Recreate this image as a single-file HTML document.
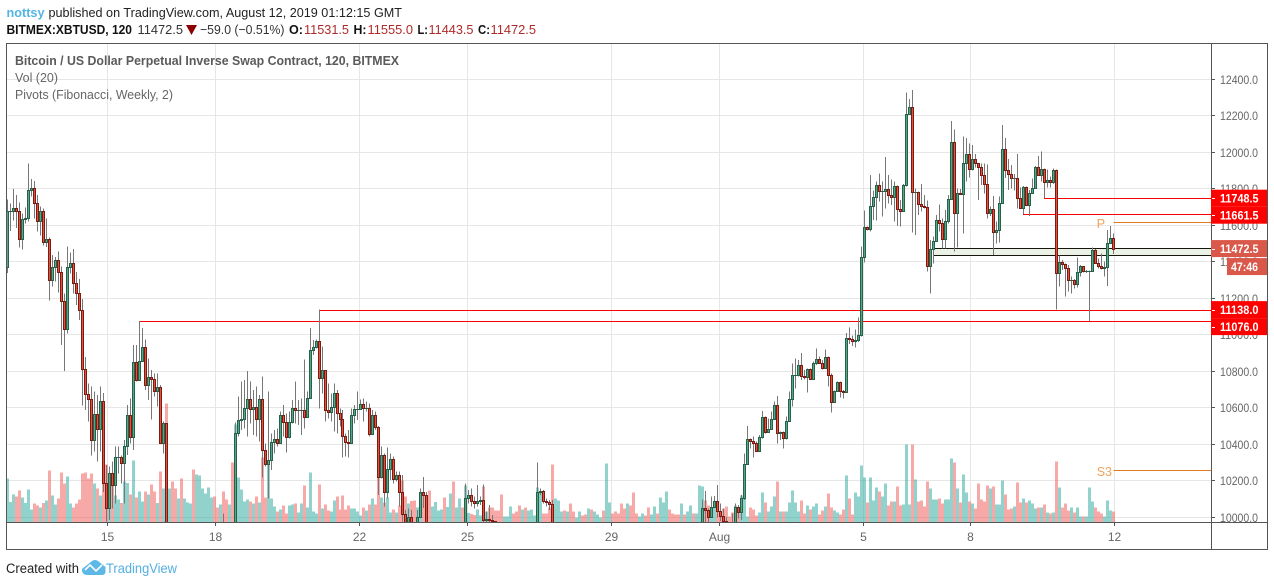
<!DOCTYPE html>
<html lang="en">
<head>
<meta charset="utf-8">
<title>BITMEX:XBTUSD chart</title>
<style>
html,body{margin:0;padding:0;background:#fff;width:1274px;height:586px;overflow:hidden}
svg{display:block;font-family:"Liberation Sans",Arial,sans-serif}
</style>
</head>
<body>
<svg id="chart" xmlns="http://www.w3.org/2000/svg" width="1274" height="586" viewBox="0 0 1274 586">
  <rect x="0" y="0" width="1274" height="586" fill="#fff"/>
  <g font-size="13">
    <text x="6.5" y="17" fill="#53b4e6" font-weight="bold" textLength="38" lengthAdjust="spacingAndGlyphs">nottsy</text>
    <text x="48.5" y="17" fill="#222" textLength="353.5" lengthAdjust="spacingAndGlyphs">published on TradingView.com, August 12, 2019 01:12:15 GMT</text>
    <text x="6.5" y="34" fill="#111" font-weight="bold" textLength="125.5" lengthAdjust="spacingAndGlyphs">BITMEX:XBTUSD, 120</text>
    <text x="137.5" y="34" fill="#333" textLength="45.5" lengthAdjust="spacingAndGlyphs">11472.5</text>
    <polygon points="186,25 197,25 191.5,35" fill="#8b0000"/>
    <text x="200" y="34" fill="#333" textLength="84.5" lengthAdjust="spacingAndGlyphs">−59.0 (−0.51%)</text>
    <text x="289" y="34" fill="#111" font-weight="bold" textLength="14" lengthAdjust="spacingAndGlyphs">O:</text>
    <text x="304" y="34" fill="#b02a2a" textLength="45" lengthAdjust="spacingAndGlyphs">11531.5</text>
    <text x="353.5" y="34" fill="#111" font-weight="bold" textLength="13" lengthAdjust="spacingAndGlyphs">H:</text>
    <text x="367.5" y="34" fill="#b02a2a" textLength="45.5" lengthAdjust="spacingAndGlyphs">11555.0</text>
    <text x="417.5" y="34" fill="#111" font-weight="bold" textLength="10.5" lengthAdjust="spacingAndGlyphs">L:</text>
    <text x="428.5" y="34" fill="#b02a2a" textLength="45" lengthAdjust="spacingAndGlyphs">11443.5</text>
    <text x="478" y="34" fill="#111" font-weight="bold" textLength="12" lengthAdjust="spacingAndGlyphs">C:</text>
    <text x="490.5" y="34" fill="#b02a2a" textLength="45.5" lengthAdjust="spacingAndGlyphs">11472.5</text>
  </g>
  <defs>
    <clipPath id="plot-clip"><rect x="7" y="44" width="1204" height="478"/></clipPath>
  </defs>
  <g id="grid" shape-rendering="crispEdges"></g>
  <g id="plot" clip-path="url(#plot-clip)" shape-rendering="crispEdges"></g>
  <g id="legend" font-size="12.5" fill="#666">
    <text x="15" y="65" font-weight="bold" fill="#5a5a5a" textLength="384" lengthAdjust="spacingAndGlyphs">Bitcoin / US Dollar Perpetual Inverse Swap Contract, 120, BITMEX</text>
    <text x="15" y="82" textLength="43" lengthAdjust="spacingAndGlyphs">Vol (20)</text>
    <text x="15" y="99" textLength="158" lengthAdjust="spacingAndGlyphs">Pivots (Fibonacci, Weekly, 2)</text>
  </g>
  <g id="frame" shape-rendering="crispEdges" stroke="#555" fill="none">
    <rect x="6.5" y="43.5" width="1261" height="506"/>
    <line x1="1211.5" y1="43.5" x2="1211.5" y2="549.5"/>
    <line x1="6.5" y1="522.5" x2="1267.5" y2="522.5"/>
  </g>
  <g id="xaxis"></g>
  <g id="yaxis"></g>
  <g id="tags"></g>
  <g>
    <text x="6" y="573" font-size="13.5" fill="#222" textLength="73" lengthAdjust="spacingAndGlyphs">Created with</text>
    <path d="M82 569 L92 561 Q95 559 98 561 L105.5 567 L105.5 572 Q105 575 102 575 L87 575 Q83 575 82 571 Z" fill="#5cb8e6"/>
    <path d="M85 570 L90 565 L96 571 L102 565" fill="none" stroke="#fff" stroke-width="1.6"/>
    <text x="106" y="573" font-size="14" fill="#53aee2" textLength="71" lengthAdjust="spacingAndGlyphs">TradingView</text>
  </g>
</svg>
<script>
const closes=[
11676,11676,11693,11676,11523,11633,11638,11792,11803,11720,
11622,11677,11507,11523,11298,11370,11408,11342,11183,11030,
11370,11392,11282,11231,11134,10811,10674,10646,10422,10564,
10482,10635,10186,10049,10241,10175,10328,10328,10296,10389,
10559,10438,10849,10750,10855,10931,10723,10771,10756,10690,
10712,10405,10515,9700,9760,9700,9640,9680,9620,9660,
9700,9740,9680,9720,9760,9800,9840,9870,9900,9850,
9800,9850,9800,9750,9790,9740,10460,10533,10537,10597,
10646,10592,10603,10540,10646,10367,10290,10312,10411,10427,
10405,10559,10520,10438,10524,10597,10586,10590,10590,10548,
10652,10915,10931,10964,10761,10805,10586,10575,10603,10679,
10570,10537,10443,10411,10405,10559,10592,10592,10619,10597,
10601,10455,10559,10493,10223,10340,10137,10263,10318,10208,
10230,10137,10018,9976,10003,9972,9960,10003,10137,10122,
9850,9800,9830,9860,9880,9900,9860,9890,9920,9870,
9900,9930,9890,10104,10120,10087,10076,10087,10093,9985,
9989,9985,9980,9930,9880,9830,9860,9880,9900,9870,
9840,9800,9830,9790,9820,9850,9880,10137,10142,10087,
10082,10071,9900,9920,9940,9955,9920,9945,9920,9890,
9915,9935,9905,9875,9900,9870,9895,9915,9935,9905,
9950,9965,9935,9905,9875,9845,9815,9840,9810,9780,
9750,9775,9800,9770,9740,9765,9790,9760,9800,9830,
9870,9840,9810,9780,9750,9790,9760,9800,9840,9810,
9850,9900,10049,10038,10000,10054,10087,10033,10005,9978,
9972,9970,9965,10054,10027,10104,10290,10427,10416,10405,
10361,10438,10548,10466,10482,10537,10614,10460,10466,10433,
10526,10646,10778,10778,10833,10772,10767,10811,10756,10844,
10866,10844,10816,10877,10778,10630,10690,10740,10690,10685,
10985,10975,10965,10970,11000,11425,11589,11578,11704,11753,
11819,11786,11786,11797,11764,11753,11814,11688,11677,11819,
12208,12247,11781,11781,11715,11704,11699,11375,11468,11512,
11627,11611,11523,11622,11742,12055,11666,11775,11770,11940,
11989,11907,11962,11940,11918,11874,11825,11666,11688,11562,
11573,11720,12016,11901,11879,11858,11858,11748,11693,11808,
11710,11775,11803,11918,11874,11907,11836,11847,11836,11901,
11337,11401,11386,11364,11300,11300,11277,11343,11375,11348,
11348,11348,11463,11392,11375,11364,11370,11501,11531.5,11472.5];
const highs=[
11742,11720,11799,11766,11726,11666,11698,11940,11854,11843,
11766,11702,11693,11638,11534,11437,11425,11457,11373,11227,
11485,11450,11470,11344,11306,11196,10877,10734,10716,10688,
10670,10716,10680,10286,10277,10305,10387,10387,10340,10424,
10615,10652,10944,10944,11076,11037,10975,10871,10807,10789,
10789,10725,10525,10515,9800,9780,9720,9720,9700,9700,
9740,9780,9760,9760,9800,9840,9880,9910,9940,9920,
9860,9890,10022,9810,9830,9800,10520,10661,10743,10752,
10802,10743,10698,10716,10670,10771,10405,10688,10460,10478,
10487,10579,10615,10570,10579,10643,10743,10643,10652,10866,
10688,11037,10971,10975,11138,10935,10807,10734,10679,10734,
10698,10597,10588,10460,10478,10597,10615,10688,10646,10652,
10634,10624,10588,10579,10500,10387,10350,10383,10350,10332,
10250,10250,10232,10040,10049,10040,9975,10040,10159,10222,
10140,9850,9860,9880,9900,9920,9920,9910,9940,9940,
9930,9950,9940,10186,10150,10159,10113,10177,10113,10180,
10031,10067,10012,9960,9940,9880,9880,9900,9930,9920,
9880,9850,9850,9830,9840,9870,9900,10301,10159,10150,
10104,10095,10095,9925,9945,9965,9960,9955,9950,9925,
9925,9945,9940,9910,9910,9905,9905,9925,9945,9940,
9960,9975,9970,9940,9910,9880,9850,9850,9845,9815,
9785,9785,9810,9805,9775,9775,9800,9795,9810,9840,
9880,9875,9845,9815,9785,9800,9795,9810,9850,9845,
9860,9910,10098,10144,10049,10113,10117,10177,10076,10049,
10003,9975,10022,10076,10067,10122,10350,10500,10433,10442,
10414,10451,10582,10551,10542,10579,10634,10665,10469,10469,
10551,10688,10844,10871,10862,10899,10807,10816,10816,10853,
10926,10880,10862,10920,10880,10789,10694,10743,10743,10698,
11010,11041,10995,11030,11096,11483,11680,11593,11876,11790,
11839,11885,11839,11973,11876,11852,11839,11819,11739,11826,
12329,12292,12342,11803,11784,11826,11766,11735,11520,11538,
11657,11715,11638,11684,11766,12172,12126,11803,11799,12086,
12077,12049,12040,11991,11940,11940,11940,11934,11702,11761,
11620,11757,12150,12077,11962,11931,11881,11991,11808,11815,
11812,11794,11857,11925,11980,12004,11912,11907,11867,11912,
11907,11434,11410,11392,11383,11319,11306,11423,11383,11377,
11355,11352,11479,11470,11419,11446,11401,11574,11596,11555];
const lows=[
11340,11570,11625,11585,11477,11467,11610,11620,11757,11638,
11565,11545,11488,11480,11187,11264,11291,11231,10944,10803,
11008,11336,11227,11163,11081,10612,10588,10524,10338,10360,
10305,10360,10140,9976,9985,10049,10076,10240,10186,10076,
10341,10405,10369,10743,10750,10855,10698,10642,10537,10661,
10606,10405,10350,9650,9680,9660,9600,9620,9590,9600,
9640,9680,9650,9660,9700,9740,9780,9820,9850,9820,
9770,9780,9760,9720,9730,9700,9700,10442,10478,10487,
10442,10515,10451,10442,10414,10219,10277,10104,10259,10350,
10387,10405,10442,10354,10433,10515,10515,10506,10451,10487,
10551,10652,10889,10926,10597,10679,10524,10542,10524,10469,
10460,10497,10329,10332,10329,10405,10515,10533,10588,10524,
10579,10442,10451,10478,10122,10213,10058,10104,10204,10186,
10195,10058,9976,9900,9900,9900,9900,9940,10000,10050,
9800,9750,9780,9810,9830,9850,9810,9840,9870,9820,
9850,9880,9840,9850,10076,10058,10049,10058,10067,9950,
9950,9950,9920,9880,9830,9780,9810,9830,9850,9820,
9790,9750,9780,9740,9770,9800,9830,9850,10122,10076,
10060,10040,9850,9890,9910,9930,9905,9905,9905,9880,
9885,9905,9895,9865,9870,9860,9860,9885,9905,9895,
9895,9940,9925,9895,9865,9835,9805,9805,9800,9770,
9740,9740,9765,9760,9730,9730,9755,9750,9750,9790,
9820,9830,9800,9770,9740,9740,9750,9750,9790,9800,
9800,9840,9850,9970,9970,10003,10050,10000,9980,9950,
9940,9940,9940,9950,9994,9985,10095,10287,10378,10329,
10360,10360,10433,10460,10469,10478,10533,10405,10424,10378,
10427,10524,10606,10707,10771,10752,10756,10683,10752,10752,
10835,10840,10811,10816,10716,10573,10630,10688,10657,10652,
10680,10950,10940,10930,10960,10990,11395,11571,11565,11629,
11625,11730,11648,11693,11720,11711,11620,11596,11593,11675,
11812,12205,11560,11547,11657,11675,11693,11346,11227,11392,
11510,11565,11474,11474,11611,11739,11456,11478,11766,11556,
11839,11863,11900,11918,11739,11821,11775,11638,11651,11437,
11501,11505,11720,11858,11794,11803,11790,11693,11688,11661.5,
11706,11651,11772,11803,11870,11839,11748.5,11808,11808,11826,
11138,11264,11355,11209,11236,11227,11255,11260,11319,11342,
11340,11076,11344,11388,11364,11359,11319,11267,11498,11443.5];
const volumes=[
130,60,82,77,94,74,57,97,37,56,
50,43,57,64,154,79,52,70,148,115,
136,55,43,55,67,146,148,130,145,115,
100,79,115,172,133,112,79,67,57,121,
117,82,184,74,92,61,91,82,112,91,
57,151,100,355,100,121,100,70,130,70,
58,55,157,142,139,100,85,103,73,76,
43,52,91,67,52,178,292,133,97,61,
67,61,55,77,58,193,73,172,71,47,
31,37,49,25,49,52,55,28,55,109,
43,148,31,25,112,40,52,34,31,64,
76,37,79,37,49,40,40,31,19,43,
34,52,70,52,137,73,58,73,28,37,
28,49,124,77,55,63,64,43,52,87,
57,94,47,60,35,37,73,45,85,121,
43,70,43,109,27,24,21,37,19,106,
31,43,43,34,34,82,17,17,46,25,
31,49,37,44,34,37,19,103,91,25,
25,43,172,70,64,31,34,31,55,31,
13,31,19,22,40,37,31,22,13,34,
175,58,25,31,25,55,40,55,49,88,
25,16,25,19,43,22,46,25,73,58,
91,37,25,22,22,55,22,31,49,25,
25,109,106,64,49,25,52,52,22,40,
46,16,28,49,31,79,106,16,43,37,
19,28,88,58,31,46,76,121,31,31,
31,58,94,58,31,64,25,49,37,46,
55,22,34,46,85,43,34,28,22,37,
139,70,22,88,76,169,133,58,133,64,
103,91,76,115,49,61,61,106,49,52,
232,52,232,127,61,64,46,121,100,67,
67,70,55,67,67,190,178,100,58,142,
88,61,55,40,115,67,61,109,100,106,
52,52,124,82,37,40,46,118,58,70,
58,64,55,40,43,43,52,28,25,28,
181,103,43,55,34,43,28,43,16,16,
16,103,61,43,31,25,16,64,34,31];
const firstOpen=11370;
const priceTicks=[10000,10200,10400,10600,10800,11000,11200,11400,11600,11800,12000,12200,12400];
const timeLabels=['15','18','22','25','29','Aug','5','8','12'];
const timeBars=[33,69,117,153,201,237,285,321,369];
const levelPrices=[11748.5,11661.5,11138,11076];
const levelStartBars=[346,339,104,44];
const zonePrices=[11474,11435];
const zoneStartBar=309;
const pivotNames=['P','S3'];
const pivotPrices=[11616,10257];
const pivotStartBar=369;
const countdownText='47:46';

const NS='http://www.w3.org/2000/svg';
const xOf=i=>7.3+i*2.9973;
const yOf=p=>517.3-(p-10000)*0.1825;
const volY=v=>522-v/3;
const snap=y=>Math.round(y)+0.5;
function make(parent,tag,attrs,text){
  const el=document.createElementNS(NS,tag);
  for(const k in attrs){el.setAttribute(k,attrs[k]);}
  if(text!==undefined){el.textContent=text;}
  parent.appendChild(el);
  return el;
}
const grid=document.getElementById('grid');
const plot=document.getElementById('plot');
const xaxis=document.getElementById('xaxis');
const yaxis=document.getElementById('yaxis');
const tags=document.getElementById('tags');

priceTicks.forEach(p=>{
  const y=snap(yOf(p)-0.3);
  const g=make(grid,'line',{x1:7,x2:1211,y1:y,y2:y,stroke:'#e6e6e6'});
  
  
  const t=make(yaxis,'line',{x1:1211,x2:1215,y1:y,y2:y,stroke:'#555','shape-rendering':'crispEdges'});
  
  
  const l=make(yaxis,'text',{x:1220,y:y+4.5,'font-size':'11.5',fill:'#666',textLength:38,lengthAdjust:'spacingAndGlyphs'},p.toFixed(1));
  
  
});
timeBars.forEach((b,i)=>{
  const x=Math.round(xOf(b)+1)+0.5;
  const g=make(grid,'line',{x1:x,x2:x,y1:44,y2:522,stroke:'#e6e6e6'});
  
  
  const t=make(xaxis,'line',{x1:x,x2:x,y1:522,y2:526,stroke:'#555','shape-rendering':'crispEdges'});
  
  
  const l=make(xaxis,'text',{x:x,y:541,'font-size':'12',fill:'#666','text-anchor':'middle'},timeLabels[i]);
  
  
});

const zoneTop=snap(yOf(zonePrices[0]));
const zoneBottom=snap(yOf(zonePrices[1]));
const zoneStart=xOf(zoneStartBar);
const zone=make(plot,'rect',{x:zoneStart,y:zoneTop,width:1211-zoneStart,height:zoneBottom-zoneTop,fill:'#e9f2e5'});


[zoneTop,zoneBottom].forEach(y=>{
  const z=make(plot,'line',{x1:zoneStart,x2:1211,y1:y,y2:y,stroke:'#16160f'});
  
  
});

levelPrices.forEach((p,i)=>{
  const y=snap(yOf(p));
  const l=make(plot,'line',{x1:Math.floor(xOf(levelStartBars[i])),x2:1211,y1:y,y2:y,stroke:'#f00'});
  
  
});

pivotNames.forEach((n,i)=>{
  const y=snap(yOf(pivotPrices[i]));
  const l=make(plot,'line',{x1:xOf(pivotStartBar),x2:1211,y1:y,y2:y,stroke:'#e07b24'});
  
  
  const t=make(plot,'text',{x:xOf(pivotStartBar)-16.6,y:y+5.5,'font-size':'12.5',fill:'#f0a35e','shape-rendering':'auto'},n);
  
  
});

closes.forEach((c,i)=>{
  const o=i?closes[i-1]:firstOpen;
  const up=c>=o;
  const x=Math.floor(xOf(i));
  const w=Math.floor(xOf(i+1))-x;
  const bar=make(plot,'rect',{x:x-1,y:volY(volumes[i]),width:w,height:volumes[i]/3,fill:up?'rgba(38,166,154,0.5)':'rgba(239,83,80,0.5)'});
  
  
});
closes.forEach((c,i)=>{
  const o=i?closes[i-1]:firstOpen;
  const up=c>=o;
  const x=Math.floor(xOf(i));
  const wick=make(plot,'line',{x1:x+0.5,x2:x+0.5,y1:yOf(highs[i]),y2:yOf(lows[i]),stroke:'#777'});
  
  
  const top=Math.round(yOf(Math.max(o,c)));
  const bot=Math.round(yOf(Math.min(o,c)));
  const edge=up?'#24634a':'#7d1a12';
  const body=bot-top<1
    ? make(plot,'rect',{x:x-1,y:top,width:3,height:1,fill:edge})
    : make(plot,'rect',{x:x-0.5,y:top+0.5,width:2,height:bot-top,fill:up?'#5aa588':'#e0533f',stroke:edge});
  
  
});

function priceTag(label,yc,x,h,color,showTick){
  const r=make(tags,'rect',{x:x,y:yc-h/2,width:1267-x,height:h,fill:color});
  
  
  if(showTick){
    const k=make(tags,'rect',{x:1212,y:Math.round(yc),width:3,height:1,fill:'#fff'});
    
    
  }
  const t=make(tags,'text',{x:x===1211?1220:1231,y:yc+4.5,'font-size':'12',fill:'#fff','font-weight':'bold',textLength:x===1211?38.5:27,lengthAdjust:'spacingAndGlyphs'},label);
  
  
}
let prevBottom=-Infinity;
levelPrices.forEach(p=>{
  const yc=Math.max(yOf(p),prevBottom+8.5);
  priceTag(p.toFixed(1),yc,1211,17,'#ff0000',true);
  prevBottom=yc+8.5;
});
const lastClose=closes[closes.length-1];
priceTag(lastClose.toFixed(1),yOf(lastClose),1211,17,'#d9584a',true);
priceTag(countdownText,yOf(lastClose)+18,1227,17,'#d9584a',false);
</script>
</body>
</html>
